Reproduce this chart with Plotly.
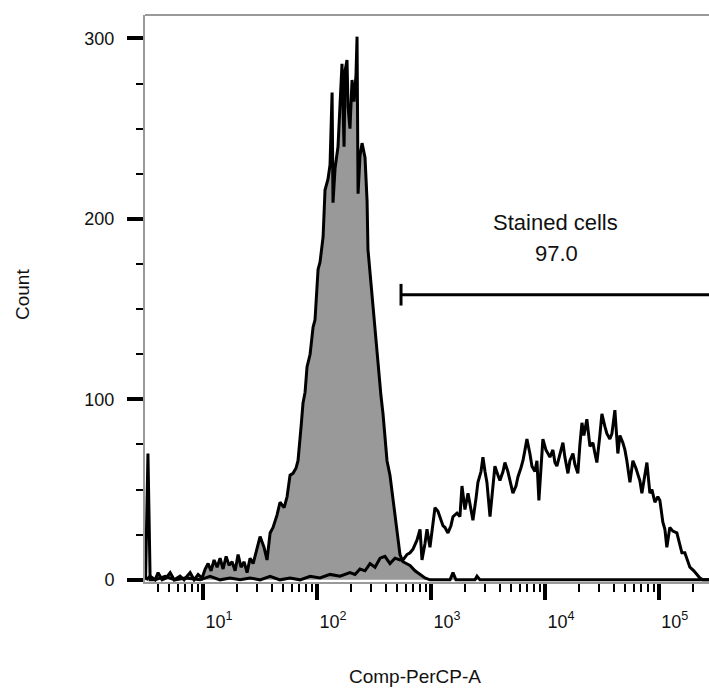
import numpy as np
import plotly.graph_objects as go

# ---- data (x as log10 of Comp-PerCP-A, y = count) ----
ctrl_log10 = [0.500, 0.535, 0.579, 0.605, 0.640, 0.675, 0.711, 0.746, 0.798, 0.833,
              0.886, 0.921, 0.956, 0.991, 1.018, 1.044, 1.070, 1.096, 1.123, 1.149,
              1.175, 1.202, 1.228, 1.254, 1.281, 1.307, 1.333, 1.360, 1.386, 1.412,
              1.439, 1.465, 1.500, 1.535, 1.561, 1.588, 1.614, 1.649, 1.675, 1.711,
              1.737, 1.763, 1.789, 1.816, 1.833, 1.860, 1.877, 1.895, 1.912, 1.939,
              1.965, 1.982, 2.009, 2.026, 2.053, 2.070, 2.096, 2.114, 2.132, 2.140,
              2.158, 2.184, 2.202, 2.219, 2.237, 2.246, 2.263, 2.272, 2.289, 2.307,
              2.325, 2.342, 2.351, 2.360, 2.377, 2.395, 2.421, 2.439, 2.447, 2.465,
              2.491, 2.518, 2.535, 2.561, 2.579, 2.596, 2.614, 2.640, 2.667, 2.684,
              2.702, 2.728, 2.754, 2.781, 2.816, 2.860, 2.904, 2.947, 2.991, 3.167,
              3.193, 3.219, 3.386, 3.404, 3.430, 5.450]
ctrl_count = [0, 2, 0, 4, 0, 1, 4, 0, 2, 0,
              4, 0, 3, 1, 6, 9, 5, 11, 7, 12,
              6, 13, 8, 10, 5, 14, 7, 10, 4, 12,
              9, 16, 24, 18, 11, 26, 29, 36, 43, 40,
              46, 58, 59, 62, 66, 85, 98, 104, 118, 125,
              140, 144, 172, 176, 190, 216, 222, 230, 270, 209,
              228, 240, 262, 286, 240, 282, 288, 262, 250, 277,
              265, 280, 301, 214, 235, 242, 234, 210, 183, 170,
              150, 130, 116, 102, 92, 79, 66, 58, 45, 36,
              26, 14, 10, 9, 8, 5, 3, 1, 0, 0,
              4, 0, 0, 2, 0, 0]

stained_log10 = [0.495, 0.512, 0.516, 0.535, 0.579, 0.667, 0.754, 0.842, 0.974, 1.061,
                 1.149, 1.237, 1.325, 1.412, 1.500, 1.588, 1.675, 1.763, 1.851, 1.939,
                 2.026, 2.114, 2.202, 2.289, 2.333, 2.377, 2.421, 2.465, 2.509, 2.553,
                 2.596, 2.640, 2.684, 2.728, 2.754, 2.789, 2.816, 2.842, 2.877, 2.904,
                 2.921, 2.947, 2.965, 2.991, 3.018, 3.035, 3.061, 3.079, 3.105, 3.123,
                 3.149, 3.175, 3.193, 3.228, 3.254, 3.272, 3.298, 3.325, 3.342, 3.368,
                 3.395, 3.412, 3.439, 3.456, 3.474, 3.491, 3.518, 3.544, 3.561, 3.588,
                 3.605, 3.632, 3.649, 3.675, 3.693, 3.719, 3.746, 3.763, 3.789, 3.807,
                 3.825, 3.842, 3.868, 3.886, 3.912, 3.930, 3.947, 3.965, 3.982, 4.009,
                 4.026, 4.044, 4.070, 4.088, 4.105, 4.132, 4.158, 4.175, 4.202, 4.219,
                 4.246, 4.263, 4.289, 4.307, 4.325, 4.342, 4.368, 4.395, 4.421, 4.439,
                 4.456, 4.482, 4.500, 4.526, 4.544, 4.570, 4.588, 4.614, 4.640, 4.658,
                 4.684, 4.702, 4.719, 4.746, 4.772, 4.798, 4.816, 4.833, 4.851, 4.877,
                 4.895, 4.921, 4.939, 4.965, 4.991, 5.009, 5.035, 5.053, 5.070, 5.096,
                 5.123, 5.158, 5.184, 5.202, 5.228, 5.254, 5.272, 5.307, 5.333, 5.360,
                 5.386, 5.450]
stained_count = [0, 70, 70, 0, 0, 2, 0, 1, 0, 2,
                 0, 1, 0, 1, 0, 2, 0, 1, 0, 2,
                 1, 3, 2, 4, 3, 6, 5, 9, 7, 12,
                 13, 9, 12, 11, 11, 14, 15, 17, 22, 28,
                 11, 20, 28, 18, 30, 40, 38, 35, 30, 29,
                 26, 30, 35, 37, 35, 52, 39, 48, 42, 33,
                 45, 54, 60, 68, 60, 54, 35, 50, 63, 58,
                 55, 60, 65, 60, 55, 48, 52, 57, 62, 66,
                 72, 78, 70, 63, 60, 66, 44, 60, 78, 72,
                 70, 68, 72, 65, 63, 70, 76, 68, 59, 66,
                 70, 64, 59, 75, 87, 80, 89, 74, 76, 70,
                 65, 80, 92, 85, 81, 78, 81, 94, 70, 80,
                 76, 72, 66, 54, 66, 62, 59, 55, 48, 58,
                 65, 48, 50, 43, 46, 44, 32, 28, 18, 29,
                 27, 26, 20, 15, 15, 10, 7, 5, 3, 1,
                 0, 0]

gate_log10 = [2.737, 5.700]
gate_count = 158
gate_cap = [152, 164]
gate_name = "Stained cells"
gate_pct = "97.0"

x_major = [1e1, 1e2, 1e3, 1e4, 1e5]
x_major_text = ["10<sup>1</sup>", "10<sup>2</sup>", "10<sup>3</sup>", "10<sup>4</sup>", "10<sup>5</sup>"]
x_minor = [4, 5, 6, 7, 8, 9,
           20, 30, 40, 50, 60, 70, 80, 90,
           200, 300, 400, 500, 600, 700, 800, 900,
           2000, 3000, 4000, 5000, 6000, 7000, 8000, 9000,
           20000, 30000, 40000, 50000, 60000, 70000, 80000, 90000,
           200000]
y_major = [0, 100, 200, 300]

FONT = "Liberation Sans, Arial, sans-serif"
LW = 3

fig = go.Figure()
fig.add_trace(go.Scatter(
    x=10 ** np.array(ctrl_log10), y=ctrl_count, mode="lines",
    fill="tozeroy", fillcolor="#999999",
    line=dict(color="black", width=LW), hoverinfo="skip"))
fig.add_trace(go.Scatter(
    x=10 ** np.array(stained_log10), y=stained_count, mode="lines",
    line=dict(color="black", width=LW), hoverinfo="skip"))
# gate bar
gx = [10 ** gate_log10[0], 10 ** gate_log10[1], None, 10 ** gate_log10[0], 10 ** gate_log10[0]]
gy = [gate_count, gate_count, None, gate_cap[0], gate_cap[1]]
fig.add_trace(go.Scatter(x=gx, y=gy, mode="lines",
                         line=dict(color="black", width=LW), hoverinfo="skip"))

fig.update_layout(
    width=709, height=688,
    margin=dict(l=145, r=0, t=15, b=106),
    plot_bgcolor="white", paper_bgcolor="white",
    showlegend=False,
    font=dict(family=FONT, color="#111111"),
    annotations=[
        dict(text="Count", xref="paper", yref="paper", x=(22 - 145) / 564, y=(582 - 295) / 567,
             textangle=-90, showarrow=False, font=dict(size=19), xanchor="center", yanchor="middle"),
        dict(text="Comp-PerCP-A", xref="paper", yref="paper", x=(415 - 145) / 564, y=(582 - 676) / 567,
             showarrow=False, font=dict(size=19), xanchor="center", yanchor="middle"),
        dict(text=gate_name, xref="paper", yref="paper", x=(555 - 145) / 564, y=(582 - 222) / 567,
             showarrow=False, font=dict(size=22), xanchor="center", yanchor="middle"),
        dict(text=gate_pct, xref="paper", yref="paper", x=(556 - 145) / 564, y=(582 - 253) / 567,
             showarrow=False, font=dict(size=22), xanchor="center", yanchor="middle"),
    ],
    shapes=[dict(type="line", xref="paper", yref="paper", x0=0, x1=1, y0=1, y1=1,
                 line=dict(color="#999999", width=2))],
)

fig.update_xaxes(
    type="log", range=[0.49, 5.44],
    tickmode="array", tickvals=x_major, ticktext=x_major_text,
    ticks="outside", ticklen=16, tickwidth=3.5, tickcolor="black",
    showline=True, linecolor="#999999", linewidth=2,
    showgrid=False, zeroline=False,
    minor=dict(tickmode="array", tickvals=x_minor, ticks="outside", ticklen=8,
               tickwidth=2, tickcolor="black", showgrid=False),
    tickfont=dict(size=18, family=FONT, color="#111111"),
    ticklabelshift=16, ticklabelstandoff=6,
)
fig.update_yaxes(
    range=[-1.2, 313],
    tickmode="array", tickvals=y_major,
    ticks="outside", ticklen=16, tickwidth=3.5, tickcolor="black",
    showline=True, linecolor="#999999", linewidth=2,
    showgrid=False, zeroline=False,
    minor=dict(dtick=25, ticks="outside", ticklen=7, tickwidth=2,
               tickcolor="black", showgrid=False),
    tickfont=dict(size=18, family=FONT, color="#111111"),
    ticklabelstandoff=9,
)

fig.write_html("out.html")
